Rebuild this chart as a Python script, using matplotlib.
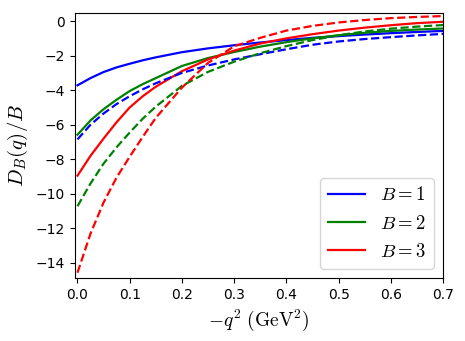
import matplotlib
matplotlib.use("Agg")
import matplotlib.pyplot as plt

matplotlib.rcParams.update({
    "mathtext.fontset": "cm",
    "xtick.labelsize": 10,
    "ytick.labelsize": 10,
})

# -q^2 (GeV^2) sample points
q2 = [0.0, 0.025, 0.05, 0.075, 0.1, 0.125, 0.15, 0.2, 0.25, 0.3,
      0.35, 0.4, 0.45, 0.5, 0.55, 0.6, 0.65, 0.7]

# solid curves
b1_solid = [-3.72, -3.3, -2.95, -2.68, -2.47, -2.27, -2.1, -1.8, -1.58, -1.4,
            -1.24, -1.1, -0.97, -0.87, -0.78, -0.7, -0.63, -0.57]
b2_solid = [-6.58, -5.75, -5.1, -4.55, -4.05, -3.65, -3.3, -2.6, -2.14, -1.79,
            -1.48, -1.22, -1.0, -0.82, -0.68, -0.57, -0.49, -0.43]
b3_solid = [-8.95, -7.8, -6.8, -5.85, -5.0, -4.35, -3.8, -2.9, -2.22, -1.71,
            -1.3, -1.0, -0.76, -0.55, -0.38, -0.24, -0.12, -0.04]

# dashed curves
b1_dash = [-6.85, -6.0, -5.35, -4.8, -4.35, -3.95, -3.6, -3.0, -2.57, -2.22,
           -1.92, -1.63, -1.37, -1.18, -1.04, -0.93, -0.83, -0.74]
b2_dash = [-10.72, -9.4, -8.25, -7.3, -6.45, -5.65, -4.95, -3.75, -2.94, -2.35,
           -1.86, -1.45, -1.1, -0.82, -0.6, -0.44, -0.32, -0.23]
b3_dash = [-14.57, -12.3, -10.5, -9.05, -7.85, -6.7, -5.6, -3.85, -2.42, -1.46,
           -0.97, -0.55, -0.28, -0.08, 0.06, 0.17, 0.24, 0.29]

labels = [r"$B=1$", r"$B=2$", r"$B=3$"]
colors = ["blue", "green", "red"]

fig = plt.figure(figsize=(4.65, 3.41), dpi=100)
ax = fig.add_axes([0.161, 0.185, 0.792, 0.777])

for ys, c, lab in zip([b1_solid, b2_solid, b3_solid], colors, labels):
    ax.plot(q2, ys, color=c, linewidth=1.6, label=lab)
for ys, c in zip([b1_dash, b2_dash, b3_dash], colors):
    ax.plot(q2, ys, color=c, linewidth=1.6, linestyle="--")

ax.set_xlim(-0.005, 0.7)
ax.set_ylim(-14.87, 0.47)
ax.set_yticks([0, -2, -4, -6, -8, -10, -12, -14])
ax.set_xlabel(r"$-q^2\ (\mathrm{GeV}^2)$", fontsize=14)
ax.set_ylabel(r"$D_B(q)/B$", fontsize=15)
ax.legend(loc="lower right", fontsize=13.5)

fig.savefig("out.png", dpi=100)
